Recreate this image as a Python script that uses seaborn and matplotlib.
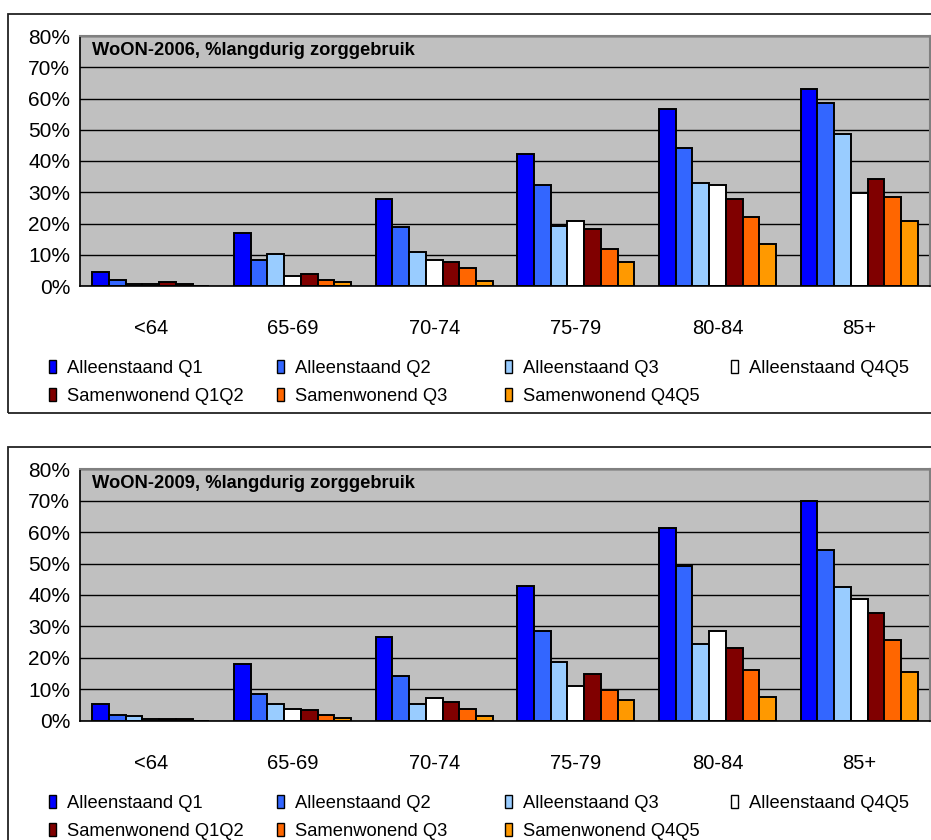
import numpy as np
import pandas as pd
import matplotlib
matplotlib.use("Agg")
import matplotlib.pyplot as plt
import seaborn as sns
from matplotlib.patches import Rectangle
from matplotlib.ticker import PercentFormatter, FixedLocator

# leeftijdsgroepen en reeksen
leeftijden = ["<64", "65-69", "70-74", "75-79", "80-84", "85+"]
groepen = ["Alleenstaand Q1", "Alleenstaand Q2", "Alleenstaand Q3", "Alleenstaand Q4Q5",
           "Samenwonend Q1Q2", "Samenwonend Q3", "Samenwonend Q4Q5"]
kleuren = ["#0000FF", "#3366FF", "#99CCFF", "#FFFFFF", "#800000", "#FF6600", "#FF9900"]

# WoON-2006 (% langdurig zorggebruik)
alleen_q1_2006 = [4.5, 16.9, 27.9, 42.1, 56.5, 63.0]
alleen_q2_2006 = [1.9, 8.3, 18.8, 32.4, 44.2, 58.5]
alleen_q3_2006 = [0.6, 10.2, 11.0, 19.2, 33.1, 48.6]
alleen_q4q5_2006 = [0.6, 3.2, 8.3, 20.8, 32.4, 29.8]
samen_q1q2_2006 = [1.3, 3.8, 7.8, 18.1, 27.8, 34.2]
samen_q3_2006 = [0.6, 1.9, 5.8, 11.7, 22.0, 28.5]
samen_q4q5_2006 = [0.0, 1.3, 1.7, 7.7, 13.5, 20.8]

# WoON-2009 (% langdurig zorggebruik)
alleen_q1_2009 = [5.2, 18.2, 26.5, 42.8, 61.4, 69.9]
alleen_q2_2009 = [1.8, 8.4, 14.2, 28.5, 49.2, 54.4]
alleen_q3_2009 = [1.5, 5.2, 5.2, 18.7, 24.5, 42.7]
alleen_q4q5_2009 = [0.6, 3.8, 7.2, 11.0, 28.5, 38.7]
samen_q1q2_2009 = [0.6, 3.3, 5.8, 14.9, 23.1, 34.3]
samen_q3_2009 = [0.6, 1.9, 3.8, 9.8, 16.2, 25.8]
samen_q4q5_2009 = [0.0, 0.8, 1.4, 6.6, 7.7, 15.4]

reeksen_2006 = [alleen_q1_2006, alleen_q2_2006, alleen_q3_2006, alleen_q4q5_2006,
                samen_q1q2_2006, samen_q3_2006, samen_q4q5_2006]
reeksen_2009 = [alleen_q1_2009, alleen_q2_2009, alleen_q3_2009, alleen_q4q5_2009,
                samen_q1q2_2009, samen_q3_2009, samen_q4q5_2009]

FONT = ["Liberation Sans", "DejaVu Sans"]

sns.set_style("white")
plt.rcParams["font.family"] = FONT
plt.rcParams["text.color"] = "black"
plt.rcParams["xtick.color"] = "black"
plt.rcParams["ytick.color"] = "black"

W, H = 931, 840
fig = plt.figure(figsize=(W / 100, H / 100), dpi=100)


def px(x, y):
    """pixelcoordinaten -> figuurfracties"""
    return x / W, 1 - y / H


def lange_tabel(reeksen):
    rijen = []
    for naam, waarden in zip(groepen, reeksen):
        for leeftijd, v in zip(leeftijden, waarden):
            rijen.append({"leeftijd": leeftijd, "groep": naam, "pct": v})
    return pd.DataFrame(rijen)


def teken_grafiek(top_px, bottom_px, reeksen, titel, frame_top, frame_bottom):
    # kader rond de grafiek
    x0, y0 = px(8, frame_bottom)
    fig.add_artist(Rectangle((x0, y0), 1.1, (frame_bottom - frame_top) / H,
                             transform=fig.transFigure, fill=False,
                             edgecolor="#222222", linewidth=1.3))

    left, bottom = px(80, bottom_px)
    ax = fig.add_axes([left, bottom, 850 / W, (bottom_px - top_px) / H])
    ax.set_facecolor("#C0C0C0")

    df = lange_tabel(reeksen)
    sns.barplot(data=df, x="leeftijd", y="pct", hue="groep", order=leeftijden,
                hue_order=groepen, palette=kleuren, saturation=1, width=0.826,
                edgecolor="black", linewidth=1.4, errorbar=None, legend=False, ax=ax)

    ax.set_xlim(-0.5, len(leeftijden) - 0.5)
    ax.set_ylim(0, 80)
    ax.set_yticks(np.arange(0, 81, 10))
    ax.yaxis.set_major_formatter(PercentFormatter(xmax=100, decimals=0))
    ax.yaxis.grid(True, color="black", linewidth=1.0)
    ax.set_axisbelow(True)
    ax.set_xlabel("")
    ax.set_ylabel("")

    ax.tick_params(axis="y", length=5, width=1, pad=2, color="black",
                   labelcolor="black", labelsize=15)
    ax.tick_params(axis="x", which="major", length=0, pad=24, labelsize=14.5,
                   labelcolor="black")
    ax.xaxis.set_minor_locator(FixedLocator(np.arange(-0.5, len(leeftijden), 1)))
    ax.tick_params(axis="x", which="minor", length=9, width=1, color="#555555")

    for kant in ["top", "right"]:
        ax.spines[kant].set_color("#808080")
        ax.spines[kant].set_linewidth(1.5)
    for kant in ["left", "bottom"]:
        ax.spines[kant].set_color("black")
        ax.spines[kant].set_linewidth(1.2)

    ax.text(0.014, 0.944, titel, transform=ax.transAxes, ha="left", va="center",
            fontsize=13.2, fontweight="bold", color="black")

    # legenda: 4 kolommen, 2 rijen
    kol_x = [49, 277, 505, 731]
    rij_basis = [bottom_px + 87, bottom_px + 115]
    volgorde = [(0, 0), (0, 1), (0, 2), (0, 3), (1, 0), (1, 1), (1, 2)]
    for (rij, kol), naam, kleur in zip(volgorde, groepen, kleuren):
        bx, by = px(kol_x[kol], rij_basis[rij])
        fig.add_artist(Rectangle((bx, by), 7 / W, 13 / H, transform=fig.transFigure,
                                 facecolor=kleur, edgecolor="black", linewidth=1.0))
        tx, ty = px(kol_x[kol] + 18, rij_basis[rij])
        fig.text(tx, ty, naam, ha="left", va="baseline", fontsize=13.2, color="black")
    return ax


teken_grafiek(36, 286, reeksen_2006, "WoON-2006, %langdurig zorggebruik", 14, 412.7)
teken_grafiek(469.3, 720.7, reeksen_2009, "WoON-2009, %langdurig zorggebruik", 446.7, 900)

fig.savefig("out.png", dpi=100, facecolor="white")
